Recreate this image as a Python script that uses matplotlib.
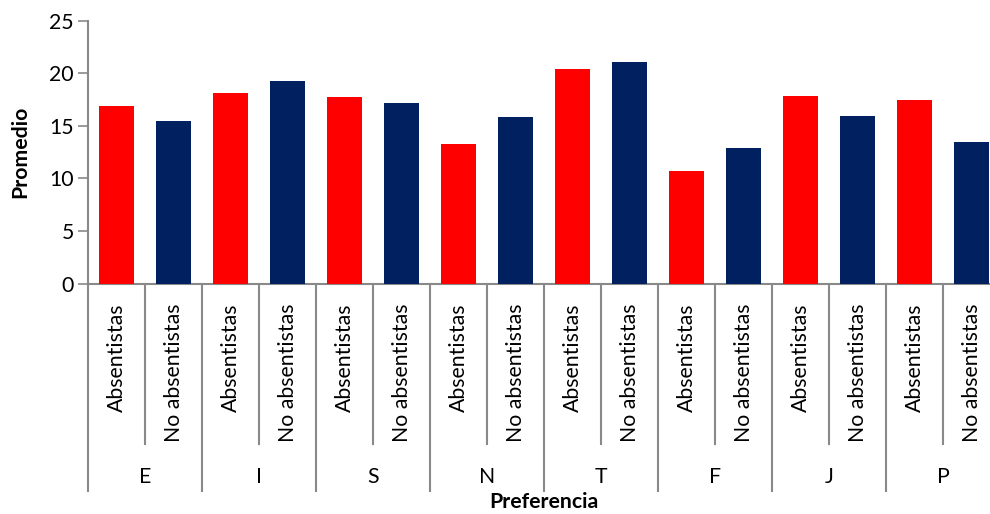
import matplotlib
matplotlib.use("Agg")
import matplotlib.pyplot as plt

groups = ["E", "I", "S", "N", "T", "F", "J", "P"]
subcats = ["Absentistas", "No absentistas"]
absentistas = [16.9, 18.1, 17.7, 13.3, 20.4, 10.7, 17.8, 17.5]
no_absentistas = [15.5, 19.3, 17.2, 15.8, 21.1, 12.9, 15.9, 13.5]
yticks = [0, 5, 10, 15, 20, 25]

plt.rcParams['font.family'] = ['Lato', 'DejaVu Sans']
FS = 15.3
GRAY = '#898989'

fig = plt.figure(figsize=(9.9, 5.14), dpi=100)
ax = fig.add_axes([88/990, 1 - 283.7/514, (1000-88)/990, 263/514])

n = len(groups)
xa = [2*i for i in range(n)]
xn = [2*i + 1 for i in range(n)]
ax.bar(xa, absentistas, width=0.6, color='#FF0000', zorder=3)
ax.bar(xn, no_absentistas, width=0.6, color='#002060', zorder=3)

ax.set_xlim(-0.5, 2*n - 0.5)
ax.set_ylim(0, 25)
ax.set_yticks(yticks)
ax.set_yticklabels([str(t) for t in yticks], fontsize=FS)
ax.tick_params(axis='y', direction='out', length=7, width=1.2, color=GRAY, pad=3)
ax.set_xticks([])
for s in ['top', 'right']:
    ax.spines[s].set_visible(False)
for s in ['left', 'bottom']:
    ax.spines[s].set_color(GRAY)
    ax.spines[s].set_linewidth(1.5)

tr = ax.get_xaxis_transform()
y_inner = (283.7 - 444) / 263
y_outer = (283.7 - 491) / 263
for k in range(2*n + 1):
    x = k - 0.5
    yb = y_outer if k % 2 == 0 else y_inner
    ax.plot([x, x], [0, yb], transform=tr, color=GRAY, lw=1.5, clip_on=False)

y_sub_top = (283.7 - 303) / 263
for i in range(n):
    for j, lab in enumerate(subcats):
        ax.text(2*i + j, y_sub_top, lab, transform=tr, rotation=90,
                ha='center', va='top', fontsize=FS, color='black')
    ax.text(2*i + 0.5, (283.7 - 477) / 263, groups[i], transform=tr,
            ha='center', va='center', fontsize=FS, color='black')

fig.text(544/990, 1 - 502/514, "Preferencia", ha='center', va='center',
         fontsize=FS, fontweight='bold')
fig.text(20/990, 1 - 152/514, "Promedio", ha='center', va='center',
         rotation=90, fontsize=FS, fontweight='bold')

fig.savefig("out.png", dpi=100)
